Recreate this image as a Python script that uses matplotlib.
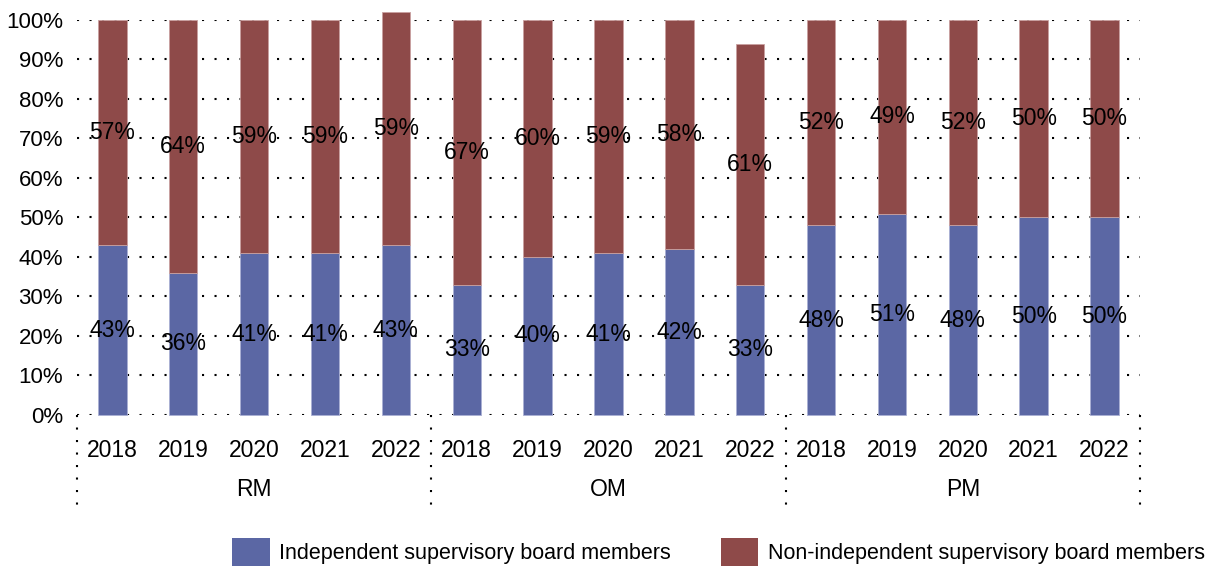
import matplotlib
matplotlib.use('Agg')
import matplotlib.pyplot as plt
import matplotlib.transforms as mtransforms
from matplotlib.patches import Patch
import numpy as np

plt.rcParams['font.family'] = ['Liberation Sans', 'DejaVu Sans']

# board composition by market segment and year
groups = ['RM', 'OM', 'PM']
years = ['2018', '2019', '2020', '2021', '2022']
independent = [43, 36, 41, 41, 43,
               33, 40, 41, 42, 33,
               48, 51, 48, 50, 50]
non_independent = [57, 64, 59, 59, 59,
                   67, 60, 59, 58, 61,
                   52, 49, 52, 50, 50]
series_names = ['Independent supervisory board members',
                'Non-independent supervisory board members']

c_ind = '#5b67a4'
c_non = '#8e4a49'
dots = (0, (1, 5))
fs = 16.5

fig = plt.figure(figsize=(12.2, 5.72), dpi=100)
ax = fig.add_axes([0.0631, 0.2745, 0.8713, 0.6906])

x = np.arange(len(independent))
ind = np.array(independent)
non = np.array(non_independent)
b1 = ax.bar(x, ind, width=0.4, color=c_ind, edgecolor='#aab0d4', linewidth=0.6, zorder=2)
b2 = ax.bar(x, non, width=0.4, bottom=ind, color=c_non, edgecolor='#c9a0a0', linewidth=0.6,
            zorder=2, clip_on=False)
for b in b1:
    b.set_clip_on(False)

# segment labels centred in each stack piece
for xi, a, b in zip(x, ind, non):
    ax.text(xi, a / 2, f'{a}%', ha='center', va='center', fontsize=fs, zorder=3)
    ax.text(xi, a + b / 2, f'{b}%', ha='center', va='center', fontsize=fs, zorder=3)

ax.set_xlim(-0.5, len(x) - 0.5)
ax.set_ylim(0, 100)
ax.set_yticks(np.arange(0, 101, 10))
ax.set_yticklabels([f'{v}%' for v in range(0, 101, 10)], fontsize=16)
ax.set_xticks(x)
ax.set_xticklabels(years * len(groups), fontsize=fs)
ax.tick_params(axis='both', length=0)
ax.tick_params(axis='x', pad=17)
ax.tick_params(axis='y', pad=10)
for s in ax.spines.values():
    s.set_visible(False)
ax.set_axisbelow(True)
ax.yaxis.grid(True, color='black', linestyle=dots, linewidth=1.5)
ax.xaxis.grid(False)

# group separators and group names below the year labels
trans = mtransforms.blended_transform_factory(ax.transData, ax.transAxes)
n = len(years)
for k in range(len(groups) + 1):
    xs = k * n - 0.5
    ax.plot([xs, xs], [0, -0.23], transform=trans, color='black', linestyle=dots,
            linewidth=1.5, clip_on=False)
for k, g in enumerate(groups):
    ax.text(k * n + (n - 1) / 2, -0.188, g, transform=trans, ha='center', va='center',
            fontsize=fs)

handles = [Patch(facecolor=c_ind, edgecolor='none'), Patch(facecolor=c_non, edgecolor='none')]
fig.legend(handles, series_names, loc='center', bbox_to_anchor=(0.589, 0.035), ncol=2,
           frameon=False, fontsize=15.5, handlelength=1.75, handleheight=1.6,
           handletextpad=0.45, columnspacing=2.3, borderpad=0)

fig.savefig('out.png', dpi=100)
